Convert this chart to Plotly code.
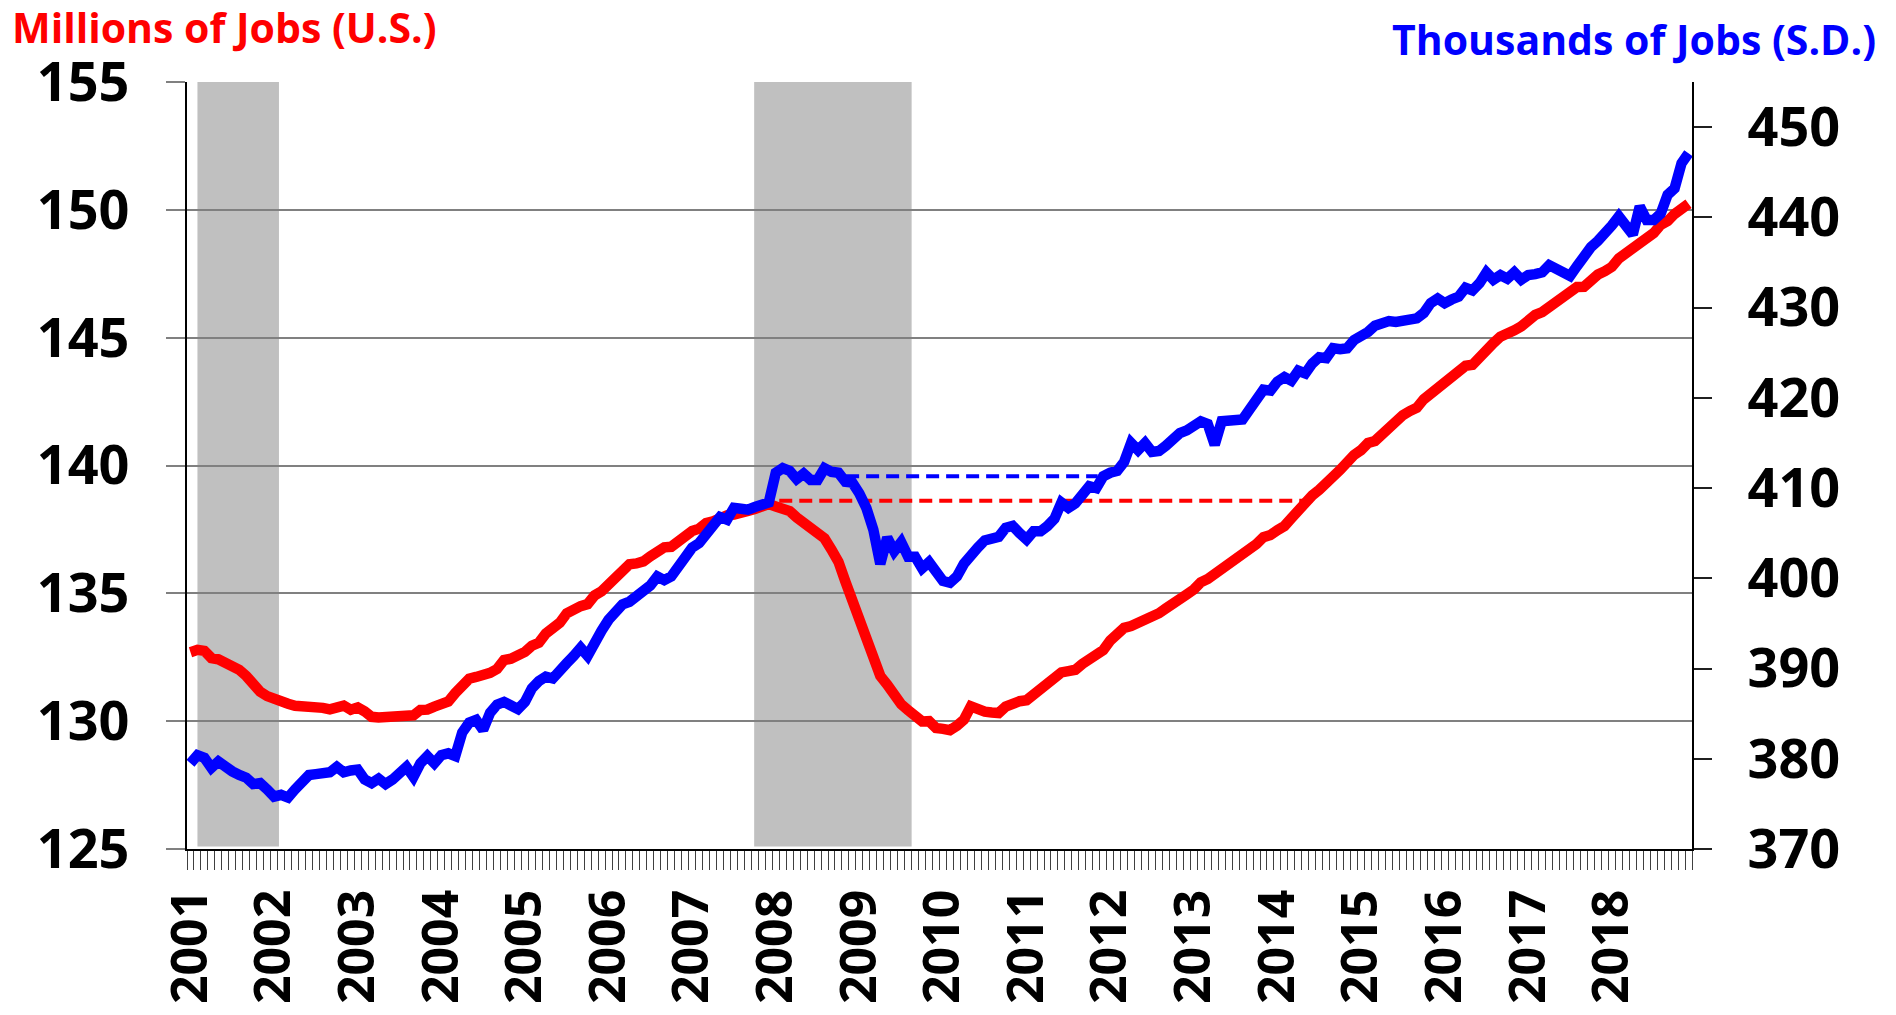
import plotly.graph_objects as go

# ---------------- data ----------------
years = list(range(2001, 2019))
year_labels = [str(y) for y in years]

# U.S. total nonfarm jobs, millions (monthly, Jan 2001 - Dec 2018)
us_jobs = [
    132.70, 132.79, 132.75, 132.47, 132.42, 132.29, 132.17, 132.01, 131.77, 131.45, 131.15, 130.98,
    130.85, 130.74, 130.68, 130.60, 130.59, 130.64, 130.54, 130.52, 130.46, 130.59, 130.61, 130.45,
    130.54, 130.38, 130.17, 130.14, 130.14, 130.14, 130.17, 130.13, 130.23, 130.44, 130.45, 130.57,
    130.72, 130.77, 131.10, 131.35, 131.66, 131.73, 131.77, 131.89, 132.04, 132.39, 132.44, 132.57,
    132.71, 132.95, 133.07, 133.43, 133.60, 133.85, 134.22, 134.42, 134.50, 134.58, 134.92, 135.08,
    135.37, 135.68, 135.96, 136.14, 136.17, 136.25, 136.45, 136.63, 136.80, 136.82, 137.04, 137.21,
    137.44, 137.53, 137.75, 137.82, 137.96, 138.05, 138.08, 138.10, 138.22, 138.30, 138.42, 138.49,
    138.40, 138.33, 138.22, 137.97, 137.79, 137.61, 137.42, 137.15, 136.71, 136.23, 135.45, 134.74,
    133.96, 133.25, 132.45, 131.77, 131.43, 131.00, 130.66, 130.43, 130.18, 129.99, 130.00, 129.73,
    129.70, 129.65, 129.82, 130.06, 130.58, 130.44, 130.37, 130.34, 130.32, 130.57, 130.71, 130.78,
    130.82, 131.03, 131.25, 131.56, 131.66, 131.91, 131.96, 132.01, 132.24, 132.45, 132.58, 132.78,
    133.15, 133.41, 133.65, 133.72, 133.83, 133.89, 134.05, 134.22, 134.41, 134.56, 134.72, 134.96,
    135.15, 135.43, 135.56, 135.75, 135.99, 136.16, 136.31, 136.53, 136.71, 136.93, 137.20, 137.28,
    137.47, 137.63, 137.94, 138.27, 138.50, 138.83, 139.05, 139.26, 139.57, 139.83, 140.15, 140.41,
    140.60, 140.88, 140.96, 141.24, 141.54, 141.70, 141.97, 142.13, 142.26, 142.59, 142.82, 143.08,
    143.23, 143.48, 143.72, 143.90, 143.94, 144.24, 144.61, 144.79, 145.04, 145.13, 145.29, 145.44,
    145.70, 145.89, 146.00, 146.19, 146.35, 146.63, 146.79, 146.98, 146.99, 147.25, 147.47, 147.60,
    147.77, 148.10, 148.28, 148.46, 148.73, 148.91, 149.09, 149.41, 149.56, 149.84, 150.02, 150.24,
]

# South Dakota total nonfarm jobs, thousands (monthly, Jan 2001 - Dec 2018)
sd_jobs = [
    379.5, 380.4, 380.1, 379.0, 379.7, 379.0, 378.6, 378.2, 377.9, 377.2, 377.3, 376.6,
    375.8, 376.0, 375.7, 376.6, 377.6, 378.2, 378.3, 378.4, 378.5, 379.1, 378.5, 378.7,
    378.8, 377.7, 377.3, 377.8, 377.2, 377.7, 378.4, 379.1, 378.0, 379.5, 380.3, 379.5,
    380.4, 380.6, 380.3, 382.9, 384.0, 384.3, 383.2, 385.1, 386.0, 386.3, 385.9, 385.5,
    386.3, 387.8, 388.6, 389.1, 388.9, 389.9, 390.6, 391.4, 392.3, 391.4, 393.0, 394.2,
    395.4, 396.3, 397.1, 397.4, 397.9, 398.5, 399.2, 400.2, 399.8, 400.2, 401.4, 402.6,
    403.4, 403.9, 405.0, 405.9, 406.8, 406.5, 407.8, 407.7, 407.6, 407.9, 408.3, 408.4,
    411.7, 412.2, 411.9, 411.0, 411.6, 410.9, 410.9, 412.2, 411.8, 411.7, 410.7, 410.6,
    409.4, 407.8, 405.4, 401.6, 404.5, 403.0, 404.0, 402.4, 402.4, 401.1, 401.8, 400.7,
    399.7, 399.5, 400.2, 401.6, 402.7, 403.4, 404.2, 404.4, 404.6, 405.6, 405.8, 405.0,
    404.3, 405.2, 405.2, 405.8, 406.6, 408.4, 407.8, 408.3, 409.5, 410.2, 410.0, 411.3,
    411.7, 411.9, 412.9, 415.0, 414.2, 415.0, 414.0, 414.1, 414.7, 415.4, 416.1, 416.4,
    416.8, 417.4, 417.1, 414.8, 417.4, 417.4, 417.5, 417.6, 418.7, 419.9, 420.9, 420.8,
    421.8, 422.3, 421.9, 423.0, 422.7, 423.8, 424.5, 424.4, 425.5, 425.4, 425.5, 426.4,
    426.8, 427.3, 428.0, 428.4, 428.5, 428.4, 428.5, 428.7, 428.8, 429.4, 430.5, 431.0,
    430.5, 430.9, 431.2, 432.2, 431.9, 432.7, 433.9, 433.1, 433.6, 433.2, 433.9, 433.1,
    433.6, 433.7, 433.9, 434.7, 434.3, 434.2, 433.5, 434.6, 435.8, 436.7, 437.4, 438.5,
    439.1, 440.1, 439.3, 438.1, 441.2, 439.7, 439.7, 440.4, 442.5, 443.2, 446.0, 447.1,
]

# shaded recession periods, in months since Jan 2001
recession_start = [1.0, 80.9]
recession_end = [12.7, 103.5]

# prior-peak reference levels and the months they span
us_peak_level = 138.62
us_peak_months = [84.5, 161.5]
sd_peak_level = 411.3
sd_peak_months = [94.1, 130.2]

left_ticks = [125, 130, 135, 140, 145, 150, 155]
right_ticks = [370, 380, 390, 400, 410, 420, 430, 440, 450]

# ---------------- figure ----------------
months = list(range(len(us_jobs)))
year_pos = [(y - years[0]) * 12 for y in years]

RED = "#FF0000"
BLUE = "#0000FF"
GRID = "#808080"
FONT = "Open Sans"

fig = go.Figure()

for s, e in zip(recession_start, recession_end):
    fig.add_shape(type="rect", xref="x", yref="paper", x0=s, x1=e, y0=0.0034, y1=1.0,
                  fillcolor="#C0C0C0", line_width=0, layer="below")

fig.add_trace(go.Scatter(x=us_peak_months, y=[us_peak_level] * 2, mode="lines",
                         line=dict(color=RED, width=4, dash="13px,7px"), hoverinfo="skip"))
fig.add_trace(go.Scatter(x=months, y=us_jobs, mode="lines",
                         line=dict(color=RED, width=10.5), name="U.S."))
fig.add_trace(go.Scatter(x=sd_peak_months, y=[sd_peak_level] * 2, mode="lines", yaxis="y2",
                         line=dict(color=BLUE, width=4, dash="13px,7px"), hoverinfo="skip"))
fig.add_trace(go.Scatter(x=months, y=sd_jobs, mode="lines", yaxis="y2",
                         line=dict(color=BLUE, width=10.5), name="S.D."))

fig.update_layout(
    width=1896, height=1015,
    margin=dict(l=187, r=204, t=82, b=166, autoexpand=False),
    paper_bgcolor="white", plot_bgcolor="white",
    showlegend=False,
    xaxis=dict(
        range=[-0.5, len(us_jobs) - 0.5], automargin=False,
        tickmode="array", tickvals=year_pos, ticktext=year_labels,
        tickangle=-90, ticks="", showgrid=False, zeroline=False,
        showline=True, linecolor="black", linewidth=1.5,
        tickfont=dict(family=FONT, size=50, color="black", weight="bold"),
        ticklabelstandoff=19,
        minor=dict(tickmode="linear", tick0=-0.5, dtick=1, ticks="outside",
                   ticklen=19, tickwidth=1, tickcolor="#404040", showgrid=False),
    ),
    yaxis=dict(
        range=[left_ticks[0], left_ticks[-1]], tickmode="array", tickvals=left_ticks,
        automargin=False,
        showgrid=True, gridcolor=GRID, gridwidth=1.5, zeroline=False,
        ticks="outside", ticklen=19, tickwidth=1.5, tickcolor=GRID,
        showline=True, linecolor="black", linewidth=1.5,
        tickfont=dict(family=FONT, size=54, color="black", weight="bold"),
        ticklabelstandoff=26,
    ),
    yaxis2=dict(
        overlaying="y", side="right", automargin=False,
        range=[370, 455], tickmode="array", tickvals=right_ticks,
        showgrid=False, zeroline=False,
        ticks="outside", ticklen=18, tickwidth=1.5, tickcolor="#202020",
        showline=True, linecolor="black", linewidth=1.5,
        tickfont=dict(family=FONT, size=54, color="black", weight="bold"),
        ticklabelstandoff=25,
    ),
    annotations=[
        dict(text="Millions of Jobs (U.S.)", xref="paper", yref="paper",
             x=(225 - 187.3) / 1504.7, y=(849.3 - 27) / 767.3,
             xanchor="center", yanchor="middle", showarrow=False,
             font=dict(family=FONT, size=41, color=RED, weight="bold")),
        dict(text="Thousands of Jobs (S.D.)", xref="paper", yref="paper",
             x=(1634 - 187.3) / 1504.7, y=(849.3 - 39) / 767.3,
             xanchor="center", yanchor="middle", showarrow=False,
             font=dict(family=FONT, size=41, color=BLUE, weight="bold")),
    ],
)

fig.write_html("out.html",
               config={"displayModeBar": False},
               post_script="document.body.style.margin='0px';"
                           "document.body.style.overflow='hidden';")
